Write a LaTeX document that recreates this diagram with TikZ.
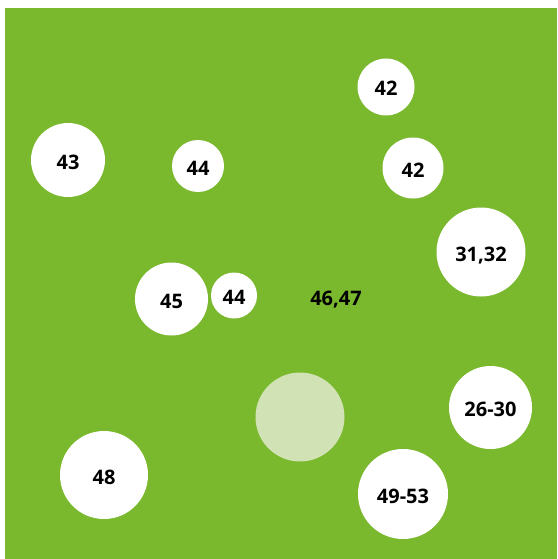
\documentclass[tikz,border=0pt]{standalone}
\usepackage{fontspec}
\setmainfont{Open Sans}
\definecolor{bggreen}{HTML}{7AB82E}
\definecolor{palegreen}{HTML}{D1E2B5}
\begin{document}
\begin{tikzpicture}[x=1pt,y=-1pt,
  lbl/.style={font=\bfseries\fontsize{20}{24}\selectfont, text=black, text height=18pt, text depth=0pt},
  spot/.style={circle, fill=white, inner sep=0pt, lbl},
  pale/.style={circle, fill=palegreen, inner sep=0pt}]
\useasboundingbox (0,0) rectangle (557,559);
\fill[bggreen] (5,8) rectangle (557,559);
\node[spot, minimum size=57pt] (a42) at (386,87) {42};
\node[spot, minimum size=61pt] (b42) at (413,168) {42};
\node[spot, minimum size=74pt] (n43) at (68,160) {43};
\node[spot, minimum size=52pt] (a44) at (198,166) {44};
\node[spot, minimum size=89pt] (n3132) at (481,252) {31,32};
\node[spot, minimum size=73pt] (n45) at (171.5,299) {45};
\node[spot, minimum size=46pt] (b44) at (234,295.5) {44};
\node[lbl] (n4647) at (336,296) {46,47};
\node[pale, minimum size=89pt] (pale) at (300,417) {};
\node[spot, minimum size=83pt] (n2630) at (490.5,407.5) {26-30};
\node[spot, minimum size=88pt] (n48) at (104,475) {48};
\node[spot, minimum size=90pt] (n4953) at (403,494) {49-53};
\end{tikzpicture}
\end{document}
